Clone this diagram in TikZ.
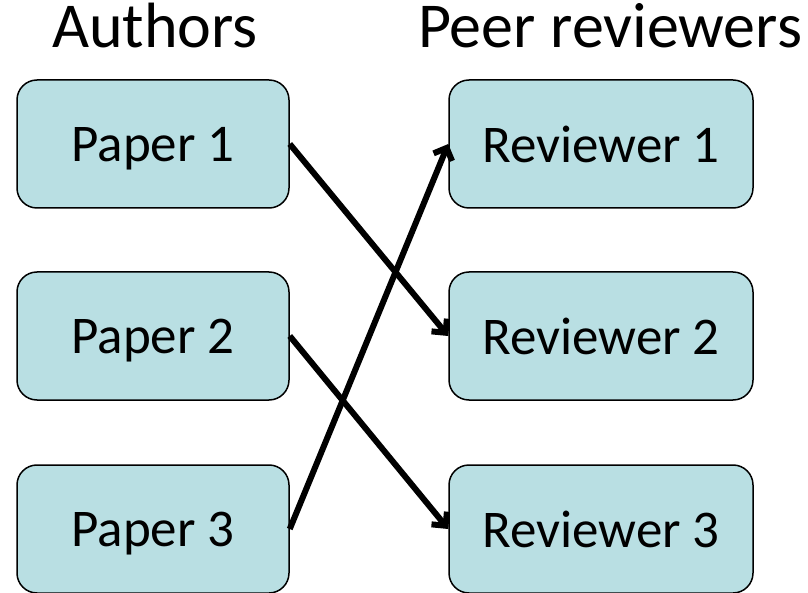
\documentclass[tikz,border=0pt]{standalone}
\usepackage{fontspec}
\setmainfont{Carlito}
\usetikzlibrary{positioning,arrows.meta}
\definecolor{boxfill}{HTML}{B9DFE3}
\tikzset{
  paper/.style={draw=black,line width=1.5pt,fill=boxfill,rounded corners=20pt,minimum width=272pt,minimum height=128pt,text depth=0pt,font=\fontsize{53}{60}\selectfont},
  reviewer/.style={paper,minimum width=304pt},
  heading/.style={anchor=base,font=\fontsize{64}{72}\selectfont},
  link/.style={line width=6pt,-{Straight Barb[length=10pt,width=20pt]}}
}
\begin{document}
\begin{tikzpicture}[x=1pt,y=-1pt]
  \useasboundingbox (0,0) rectangle (808,593);
  \node[paper] (p1) at (153,144) {Paper 1};
  \node[paper] (p2) at (153,336) {Paper 2};
  \node[paper] (p3) at (153,529) {Paper 3};
  \node[reviewer] (r1) at (601,144) {Reviewer 1};
  \node[reviewer] (r2) at (601,336) {Reviewer 2};
  \node[reviewer] (r3) at (601,529) {Reviewer 3};
  \node[heading] (authors) at (155,48) {Authors};
  \node[heading] (peers) at (610,48) {Peer reviewers};
  \draw[link] (p1.east) -- (r2.west);
  \draw[link] (p2.east) -- (r3.west);
  \draw[link] (p3.east) -- (r1.west);
\end{tikzpicture}
\end{document}
